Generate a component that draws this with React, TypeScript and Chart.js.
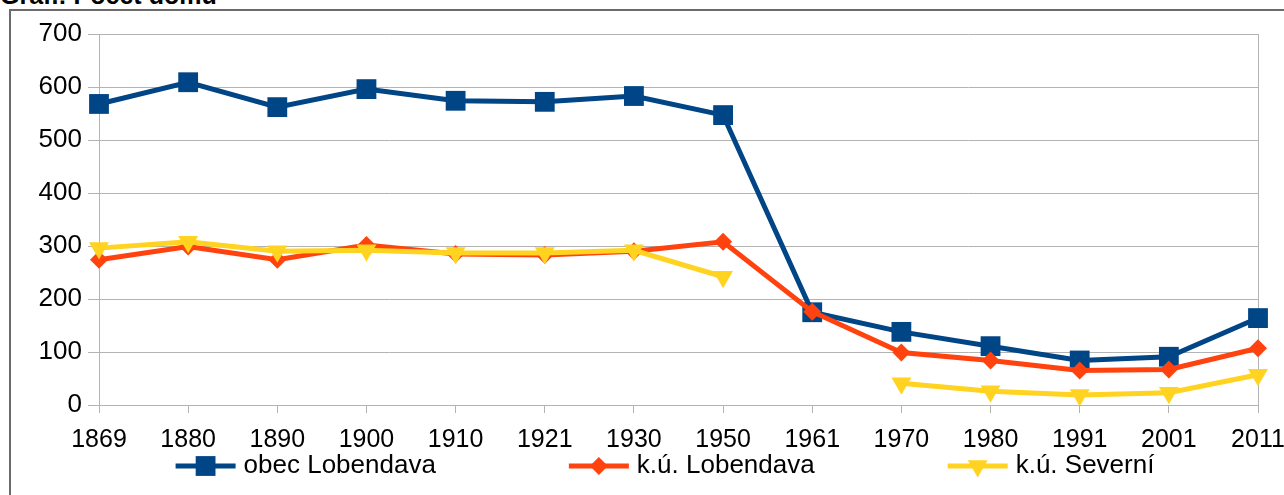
import React, { useEffect, useRef } from "react";
import { Chart, registerables } from "chart.js";
import { drawPoint } from "chart.js/helpers";

Chart.register(...registerables);

const years = ["1869", "1880", "1890", "1900", "1910", "1921", "1930", "1950", "1961", "1970", "1980", "1991", "2001", "2011"];
const obecLobendava = [568, 609, 562, 596, 574, 572, 583, 547, 175, 138, 111, 84, 91, 164];
const kuLobendava = [274, 299, 274, 302, 285, 283, 290, 308, 176, 99, 84, 65, 67, 107];
const kuSeverni: (number | null)[] = [296, 308, 290, 292, 287, 287, 292, 242, null, 41, 26, 19, 23, 57];
const seriesNames = ["obec Lobendava", "k.ú. Lobendava", "k.ú. Severní"];
const yTicks = [0, 100, 200, 300, 400, 500, 600, 700];
const titleText = "Graf.: Počet domů";

const BLUE = "#004586";
const ORANGE = "#ff420e";
const YELLOW = "#ffd320";
const GRID = "#b3b3b3";
const FONT = '"Liberation Sans", Arial, sans-serif';

const lineLegend = {
  id: "lineLegend",
  afterDraw(chart: any, _args: any, opts: any) {
    const ctx = chart.ctx as CanvasRenderingContext2D;
    const ds = chart.data.datasets;
    ctx.save();
    ctx.font = `${opts.fontSize}px ${FONT}`;
    const widths = ds.map((d: any) => opts.lineLength + opts.textGap + ctx.measureText(d.label).width);
    const total = widths.reduce((a: number, b: number) => a + b, 0) + opts.itemGap * (ds.length - 1);
    let x = opts.centerX - total / 2;
    const y = opts.y;
    ds.forEach((d: any, i: number) => {
      ctx.strokeStyle = d.borderColor;
      ctx.lineWidth = d.borderWidth;
      ctx.lineCap = "butt";
      ctx.beginPath();
      ctx.moveTo(x, y);
      ctx.lineTo(x + opts.lineLength, y);
      ctx.stroke();
      ctx.fillStyle = d.pointBackgroundColor;
      drawPoint(
        ctx,
        { pointStyle: d.pointStyle, radius: d.pointRadius, rotation: d.pointRotation || 0, borderWidth: 0 } as any,
        x + opts.lineLength / 2,
        y
      );
      ctx.fillStyle = "#000";
      ctx.textBaseline = "middle";
      ctx.textAlign = "left";
      ctx.fillText(d.label, x + opts.lineLength + opts.textGap, y);
      x += widths[i] + opts.itemGap;
    });
    ctx.restore();
  },
};

export default function App() {
  const ref = useRef<HTMLCanvasElement>(null);

  useEffect(() => {
    if (!ref.current) return;
    const chart = new Chart(ref.current, {
      type: "line",
      data: {
        labels: years,
        datasets: [
          {
            label: seriesNames[0],
            data: obecLobendava,
            borderColor: BLUE,
            backgroundColor: BLUE,
            pointBackgroundColor: BLUE,
            pointBorderColor: BLUE,
            pointBorderWidth: 0,
            borderWidth: 5,
            pointStyle: "rect",
            pointRadius: 14,
            pointHoverRadius: 14,
            tension: 0,
            order: 3,
          },
          {
            label: seriesNames[1],
            data: kuLobendava,
            borderColor: ORANGE,
            backgroundColor: ORANGE,
            pointBackgroundColor: ORANGE,
            pointBorderColor: ORANGE,
            pointBorderWidth: 0,
            borderWidth: 5,
            pointStyle: "rectRot",
            pointRadius: 9,
            pointHoverRadius: 9,
            tension: 0,
            order: 2,
          },
          {
            label: seriesNames[2],
            data: kuSeverni,
            borderColor: YELLOW,
            backgroundColor: YELLOW,
            pointBackgroundColor: YELLOW,
            pointBorderColor: YELLOW,
            pointBorderWidth: 0,
            borderWidth: 5,
            pointStyle: "triangle",
            pointRotation: 180,
            pointRadius: 11.5,
            pointHoverRadius: 11.5,
            tension: 0,
            spanGaps: false,
            order: 1,
          },
        ],
      },
      options: {
        responsive: false,
        animation: false,
        events: [],
        layout: { padding: { top: 34, left: 0, right: 0, bottom: 0 } },
        plugins: {
          legend: { display: false },
          tooltip: { enabled: false },
          title: { display: false },
          lineLegend: { fontSize: 26, lineLength: 60, textGap: 8, itemGap: 133, centerX: 665, y: 466 },
        } as any,
        scales: {
          x: {
            type: "category",
            offset: false,
            grid: { display: true, drawOnChartArea: false, drawTicks: true, tickLength: 8, color: GRID, lineWidth: 1 },
            border: { display: true, color: GRID, width: 1 },
            ticks: { color: "#000", font: { family: FONT, size: 25 }, padding: 12, autoSkip: false, maxRotation: 0, minRotation: 0 },
            afterFit: (s: any) => {
              s.height = 90;
              s.paddingRight = 26;
            },
          },
          y: {
            min: 0,
            max: 700,
            afterBuildTicks: (s: any) => {
              s.ticks = yTicks.map((v) => ({ value: v }));
            },
            ticks: { color: "#000", font: { family: FONT, size: 26 }, padding: 6 },
            grid: { color: GRID, tickLength: 11, drawTicks: true, lineWidth: 1 },
            border: { display: true, color: GRID, width: 1 },
            afterFit: (s: any) => {
              s.width = 99;
            },
          },
          y2: {
            position: "right",
            min: 0,
            max: 700,
            ticks: { display: false },
            grid: { display: false, drawTicks: false },
            border: { display: true, color: GRID, width: 1 },
            afterFit: (s: any) => {
              s.width = 0;
            },
          },
        },
      },
      plugins: [lineLegend as any],
    });
    return () => chart.destroy();
  }, []);

  return (
    <div style={{ position: "absolute", left: 0, top: 0, width: 1284, height: 495, overflow: "hidden", background: "#fff" }}>
      <div
        style={{
          position: "absolute",
          left: 9,
          top: 9,
          width: 1400,
          height: 600,
          borderLeft: "2px solid #6b6b6b",
          borderTop: "2px solid #6b6b6b",
        }}
      />
      <div
        style={{
          position: "absolute",
          left: 0,
          top: -19,
          lineHeight: "30px",
          font: `bold 25px ${FONT}`,
          whiteSpace: "nowrap",
          color: "#000",
        }}
      >
        {titleText}
      </div>
      <canvas ref={ref} width={1284} height={495} style={{ position: "absolute", left: 0, top: 0, width: 1284, height: 495 }} />
    </div>
  );
}
